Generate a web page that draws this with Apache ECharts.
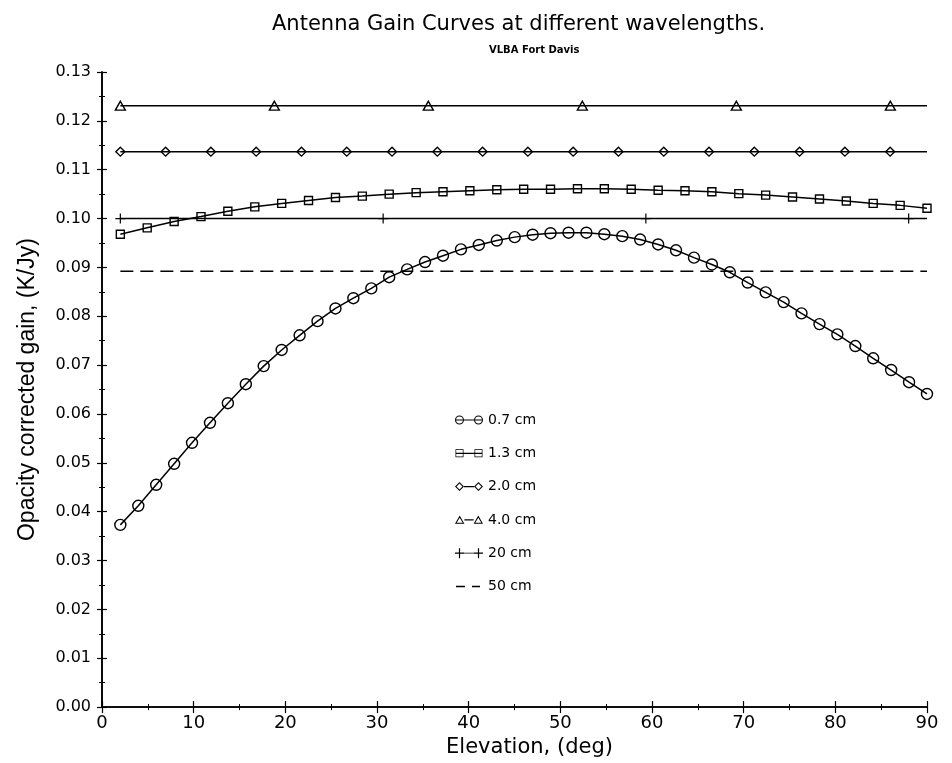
<!DOCTYPE html>
<html>
<head>
<meta charset="utf-8">
<script src="https://cdn.jsdelivr.net/npm/echarts@6/dist/echarts.min.js"></script>
<style>
html,body{margin:0;padding:0;background:#fff;}
#chart{width:952px;height:763px;}
</style>
</head>
<body>
<div id="chart"></div>
<script>
// ---- data ----
const titleText = 'Antenna Gain Curves at different wavelengths.';
const subText = 'VLBA Fort Davis';
const xName = 'Elevation, (deg)';
const yName = 'Opacity corrected gain, (K/Jy)';
const seriesNames = ['0.7 cm', '1.3 cm', '2.0 cm', '4.0 cm', '20 cm', '50 cm'];

const elev07 = [2, 3.96, 5.91, 7.87, 9.82, 11.78, 13.73, 15.69, 17.64, 19.6, 21.56, 23.51, 25.47, 27.42, 29.38, 31.33, 33.29, 35.24, 37.2, 39.16, 41.11, 43.07, 45.02, 46.98, 48.93, 50.89, 52.84, 54.8, 56.76, 58.71, 60.67, 62.62, 64.58, 66.53, 68.49, 70.44, 72.4, 74.36, 76.31, 78.27, 80.22, 82.18, 84.13, 86.09, 88.04, 90];
const gain07 = [0.0373, 0.0412, 0.0455, 0.0498, 0.0541, 0.0582, 0.0622, 0.0661, 0.0698, 0.0731, 0.0761, 0.0790, 0.0816, 0.0837, 0.0857, 0.0880, 0.0896, 0.0911, 0.0924, 0.0937, 0.0946, 0.0955, 0.0962, 0.0967, 0.0970, 0.0971, 0.0971, 0.0968, 0.0964, 0.0957, 0.0947, 0.0935, 0.0920, 0.0906, 0.0890, 0.0869, 0.0849, 0.0829, 0.0806, 0.0784, 0.0763, 0.0739, 0.0714, 0.0690, 0.0665, 0.0641];

const elev13 = [2, 4.93, 7.87, 10.8, 13.73, 16.67, 19.6, 22.53, 25.47, 28.4, 31.33, 34.27, 37.2, 40.13, 43.07, 46, 48.93, 51.87, 54.8, 57.73, 60.67, 63.6, 66.53, 69.47, 72.4, 75.33, 78.27, 81.2, 84.13, 87.07, 90];
const gain13 = [0.0968, 0.0981, 0.0994, 0.1004, 0.1015, 0.1024, 0.1031, 0.1037, 0.1043, 0.1046, 0.1050, 0.1053, 0.1055, 0.1057, 0.1059, 0.1060, 0.1060, 0.1061, 0.1061, 0.1060, 0.1058, 0.1057, 0.1055, 0.1051, 0.1048, 0.1044, 0.1040, 0.1036, 0.1031, 0.1027, 0.1021];

const elev20 = [2, 6.94, 11.88, 16.82, 21.76, 26.7, 31.64, 36.58, 41.52, 46.46, 51.4, 56.34, 61.28, 66.22, 71.16, 76.1, 81.04, 85.98];
const gain20 = [0.1137, 0.1137, 0.1137, 0.1137, 0.1137, 0.1137, 0.1137, 0.1137, 0.1137, 0.1137, 0.1137, 0.1137, 0.1137, 0.1137, 0.1137, 0.1137, 0.1137, 0.1137];

const elev40 = [2, 18.8, 35.6, 52.4, 69.2, 86];
const gain40 = [0.1231, 0.1231, 0.1231, 0.1231, 0.1231, 0.1231];

const elev200 = [2, 30.67, 59.33, 88];
const gain200 = [0.1000, 0.1000, 0.1000, 0.1000];

const elev500 = [2, 90];
const gain500 = [0.0892, 0.0892];

const lineEnd = 90; // the flat lines run on to the right edge without a marker

const xMin = 0, xMax = 90, xStep = 10;
const yMin = 0, yMax = 0.13, yStep = 0.01;

// ---- build ----
function pairs(xs, ys) { return xs.map((x, i) => [x, ys[i]]); }
function withEnd(xs, ys) {
  const d = pairs(xs, ys);
  if (xs[xs.length - 1] < lineEnd) d.push({ value: [lineEnd, ys[ys.length - 1]], symbol: 'none' });
  return d;
}

const FONT = 'DejaVu Sans';
const hollow = { color: 'rgba(0,0,0,0)', borderColor: '#000', borderWidth: 1.4 };
const lineS = { color: '#000', width: 1.5 };
const plusPath = 'path://M4.4,0H5.6V4.4H10V5.6H5.6V10H4.4V5.6H0V4.4H4.4Z';

// legend icons (28 x 12 box): marker - line - marker, like the original key
const box = 'M0,0h0.01v0.01h-0.01Z M27.99,11.99h0.01v0.01h-0.01Z ';
function ring(cx) {
  return `M${cx - 4.5},6 A4.5,4.5 0 1 0 ${cx + 4.5},6 A4.5,4.5 0 1 0 ${cx - 4.5},6 Z ` +
         `M${cx - 3.4},6 A3.4,3.4 0 1 1 ${cx + 3.4},6 A3.4,3.4 0 1 1 ${cx - 3.4},6 Z ` +
         `M${cx - 3.4},5.4 H${cx + 3.4} V6.6 H${cx - 3.4} Z `;
}
function sq(cx) {
  return `M${cx - 4},2 H${cx + 4} V10 H${cx - 4} Z M${cx - 3.3},2.7 V9.3 H${cx + 3.3} V2.7 Z ` +
         `M${cx - 3.3},5.4 H${cx + 3.3} V6.6 H${cx - 3.3} Z `;
}
function dia(cx) {
  return `M${cx},1.5 L${cx + 4.5},6 L${cx},10.5 L${cx - 4.5},6 Z M${cx},3 L${cx - 3},6 L${cx},9 L${cx + 3},6 Z `;
}
function tri(cx) {
  return `M${cx},1.5 L${cx + 4.8},10 L${cx - 4.8},10 Z M${cx},3.8 L${cx - 3.1},8.9 L${cx + 3.1},8.9 Z `;
}
function plus(cx) {
  return `M${cx - 0.6},1 H${cx + 0.6} V5.4 H${cx + 4.5} V6.6 H${cx + 0.6} V11 H${cx - 0.6} V6.6 H${cx - 4.5} V5.4 H${cx - 0.6} Z `;
}
const link = (a, b, t) => `M${a},${6 - t / 2} H${b} V${6 + t / 2} H${a} Z `;
const icons = [
  'path://' + box + ring(4.5) + ring(23.5) + link(9, 19, 1.2),
  'path://' + box + sq(4.5) + sq(23.5) + link(8.5, 19.5, 1.2),
  'path://' + box + dia(4.5) + dia(23.5) + link(9, 19, 1.2),
  'path://' + box + tri(4.5) + tri(23.5) + link(9.3, 18.7, 1.2),
  'path://' + box + plus(4.5) + plus(23.5) + link(9, 19, 0.8),
  'path://' + box + 'M1,5.3 H10 V6.7 H1 Z M17,5.3 H25 V6.7 H17 Z'
];
const legendData = seriesNames.map((n, i) => ({
  name: n, icon: icons[i], itemStyle: { color: '#000', borderWidth: 0, opacity: 1 }
}));

const chart = echarts.init(document.getElementById('chart'), null, { renderer: 'canvas' });

const axisLine = { show: true, lineStyle: { color: '#000', width: 1.6 } };
const option = {
  backgroundColor: '#fff',
  animation: false,
  title: [
    { text: titleText, left: 267, top: 9, textStyle: { fontFamily: FONT, fontSize: 21, fontWeight: 'normal', color: '#000' } },
    { text: subText, left: 484, top: 40, textStyle: { fontFamily: FONT, fontSize: 10, fontWeight: 'bold', color: '#000' } }
  ],
  legend: {
    orient: 'vertical', left: 450, top: 408,
    itemWidth: 28, itemHeight: 12, itemGap: 19.3,
    textStyle: { fontFamily: FONT, fontSize: 14, color: '#000' },
    data: legendData
  },
  grid: { left: 102, right: 25, top: 72, bottom: 54 },
  xAxis: [
    {
      type: 'value', min: xMin, max: xMax, interval: xStep, position: 'bottom',
      name: xName, nameLocation: 'middle', nameGap: 27,
      nameTextStyle: { fontFamily: FONT, fontSize: 21, color: '#000', padding: [0, 0, 0, 30] },
      axisLine: axisLine,
      axisTick: { show: true, inside: true, length: 6, lineStyle: { color: '#000', width: 1.2 } },
      minorTick: { show: true, splitNumber: 2, length: 3, lineStyle: { color: '#000', width: 1 } },
      axisLabel: { fontFamily: FONT, fontSize: 18, color: '#000', margin: 7 },
      splitLine: { show: false }
    },
    {
      type: 'value', min: xMin, max: xMax, interval: xStep, position: 'top',
      axisLine: axisLine,
      axisTick: { show: true, inside: true, length: 6, lineStyle: { color: '#000', width: 1.2 } },
      minorTick: { show: true, splitNumber: 2, length: 3, lineStyle: { color: '#000', width: 1 } },
      axisLabel: { show: false },
      splitLine: { show: false }
    }
  ],
  yAxis: [
    {
      type: 'value', min: yMin, max: yMax, interval: yStep, position: 'left',
      name: yName, nameLocation: 'middle', nameGap: 63,
      nameTextStyle: { fontFamily: 'Liberation Sans', fontSize: 23, color: '#000' },
      axisLine: axisLine,
      axisTick: { show: true, inside: true, length: 5, lineStyle: { color: '#000', width: 1.2 } },
      minorTick: { show: true, splitNumber: 2, length: 3, lineStyle: { color: '#000', width: 1 } },
      axisLabel: { fontFamily: FONT, fontSize: 16, color: '#000', margin: 11, formatter: v => v.toFixed(2) },
      splitLine: { show: false }
    },
    {
      type: 'value', min: yMin, max: yMax, interval: yStep, position: 'right',
      axisLine: axisLine,
      axisTick: { show: true, inside: true, length: 5, lineStyle: { color: '#000', width: 1.2 } },
      minorTick: { show: true, splitNumber: 2, length: 3, lineStyle: { color: '#000', width: 1 } },
      axisLabel: { show: false },
      splitLine: { show: false }
    }
  ],
  series: [
    {
      name: seriesNames[0], type: 'line', data: pairs(elev07, gain07),
      symbol: 'circle', symbolSize: 11, itemStyle: hollow, lineStyle: lineS
    },
    {
      name: seriesNames[1], type: 'line', data: pairs(elev13, gain13),
      symbol: 'rect', symbolSize: 8, itemStyle: hollow, lineStyle: lineS
    },
    {
      name: seriesNames[2], type: 'line', data: withEnd(elev20, gain20),
      symbol: 'diamond', symbolSize: [9, 9], itemStyle: hollow, lineStyle: lineS
    },
    {
      name: seriesNames[3], type: 'line', data: withEnd(elev40, gain40),
      symbol: 'triangle', symbolSize: [10, 9], itemStyle: hollow, lineStyle: lineS
    },
    {
      name: seriesNames[4], type: 'line', data: withEnd(elev200, gain200),
      symbol: plusPath, symbolSize: 10, itemStyle: { color: '#000', borderWidth: 0 }, lineStyle: lineS
    },
    {
      name: seriesNames[5], type: 'line', data: pairs(elev500, gain500),
      symbol: 'none', itemStyle: { color: '#000' },
      lineStyle: { color: '#000', width: 1.6, type: [13, 7] }
    }
  ]
};
chart.setOption(option);
</script>
</body>
</html>
